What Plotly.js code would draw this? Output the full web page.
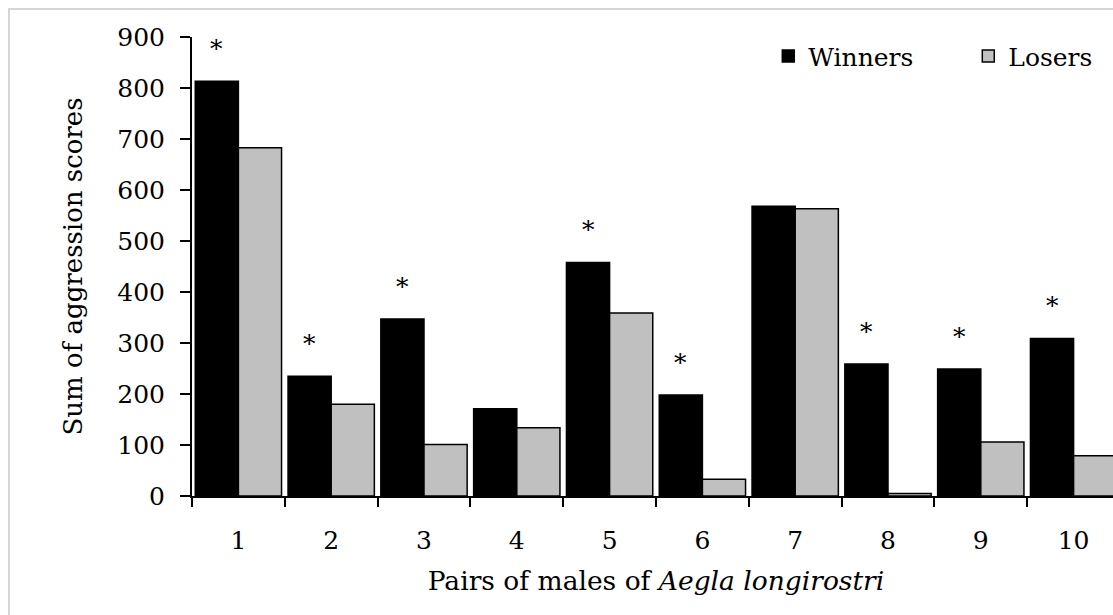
<!DOCTYPE html>
<html>
<head>
<meta charset="utf-8">
<script src="https://cdn.plot.ly/plotly-3.0.1.min.js"></script>
<style>
  html, body { margin: 0; padding: 0; background: #fff; overflow: hidden; }
  #wrap { position: relative; width: 1113px; height: 615px; overflow: hidden; }
  #chart { position: absolute; left: 0; top: 0; }
  #frame { position: absolute; left: 8px; top: 8px; width: 1200px; height: 700px;
           border-left: 2px solid #d6d6d6; border-top: 2px solid #d6d6d6; pointer-events: none; }
</style>
</head>
<body>
<div id="wrap">
  <div id="chart"></div>
  <div id="frame"></div>
</div>
<script>
// Data
const pairs = ["1", "2", "3", "4", "5", "6", "7", "8", "9", "10"];
const winners = [813, 235, 347, 171, 458, 198, 568, 259, 249, 309];
const losers  = [683, 180, 101, 134, 359, 33, 563, 5, 106, 79];
const significant = [true, true, true, false, true, true, false, true, true, true];

const FONT = "DejaVu Serif, Liberation Serif, serif";

const traces = [
  {
    type: "bar", name: "Winners", x: pairs, y: winners,
    marker: { color: "#000000", line: { color: "#000000", width: 1.5 } }
  },
  {
    type: "bar", name: "Losers", x: pairs, y: losers,
    marker: { color: "#c0c0c0", line: { color: "#000000", width: 1.5 } }
  }
];

const annotations = [];
pairs.forEach((p, i) => {
  if (significant[i]) {
    annotations.push({
      x: i - 0.2325, y: winners[i], xref: "x", yref: "y",
      text: "*", showarrow: false, yanchor: "bottom", yshift: 16,
      font: { family: FONT, size: 25, color: "#000" }
    });
  }
});

const layout = {
  width: 1130, height: 615,
  margin: { l: 192, r: 10, t: 37, b: 119, autoexpand: false },
  paper_bgcolor: "#ffffff", plot_bgcolor: "#ffffff",
  font: { family: FONT, color: "#000", size: 25 },
  barmode: "group", bargap: 0.07, bargroupgap: 0,
  showlegend: true,
  legend: {
    orientation: "h", x: 0.621, xanchor: "left", y: 1.008, yanchor: "top",
    font: { family: FONT, size: 25, color: "#000" },
    bgcolor: "rgba(0,0,0,0)", entrywidth: 155, entrywidthmode: "pixels"
  },
  xaxis: {
    type: "category", tickson: "boundaries", ticks: "outside", ticklen: 9, tickwidth: 2, tickcolor: "#000",
    showline: true, linecolor: "#000", linewidth: 2, showgrid: false, zeroline: false,
    ticklabelstandoff: 21,
    tickfont: { family: FONT, size: 25, color: "#000" },
    title: { text: "Pairs of males of <i>Aegla longirostri</i>", font: { family: FONT, size: 26.5, color: "#000" }, standoff: 17 },
    fixedrange: true
  },
  yaxis: {
    range: [0, 900], tickvals: [0,100,200,300,400,500,600,700,800,900],
    ticks: "outside", ticklen: 10, tickwidth: 2, tickcolor: "#000",
    showline: true, linecolor: "#000", linewidth: 2, showgrid: false, zeroline: false,
    ticklabelstandoff: 10,
    tickfont: { family: FONT, size: 25, color: "#000" },
    title: { text: "Sum of aggression scores", font: { family: FONT, size: 26, color: "#000" }, standoff: 27 },
    fixedrange: true
  },
  annotations: annotations
};

Plotly.newPlot("chart", traces, layout, { displayModeBar: false, staticPlot: true });
</script>
</body>
</html>
